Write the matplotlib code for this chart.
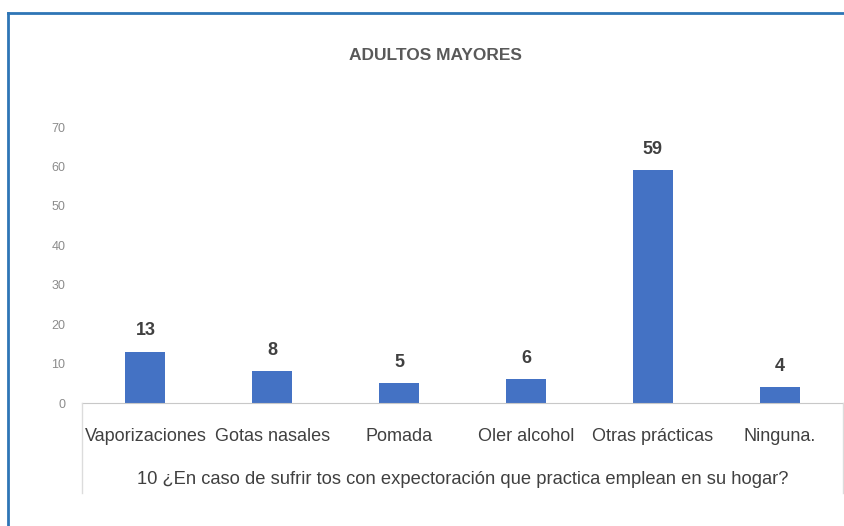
import matplotlib.pyplot as plt
from matplotlib.lines import Line2D

categorias = ['Vaporizaciones', 'Gotas nasales', 'Pomada', 'Oler alcohol', 'Otras prácticas', 'Ninguna.']
valores = [13, 8, 5, 6, 59, 4]
y_ticks = [0, 10, 20, 30, 40, 50, 60, 70]
titulo = 'ADULTOS MAYORES'
etiqueta_x = '10 ¿En caso de sufrir tos con expectoración que practica emplean en su hogar?'

plt.rcParams['font.family'] = ['Liberation Sans', 'DejaVu Sans']

fig = plt.figure(figsize=(8.45, 5.26), dpi=100)
ax = fig.add_axes([82 / 845, 1 - 403 / 526, (843 - 82) / 845, 276 / 526])

x = list(range(len(categorias)))
ax.bar(x, valores, width=0.315, color='#4472C4')

# etiquetas de datos
for xi, v in zip(x, valores):
    ax.text(xi, v + 3.2, str(v), ha='center', va='bottom', fontsize=13,
            fontweight='bold', color='#404040')

ax.set_xlim(-0.5, len(categorias) - 0.5)
ax.set_ylim(0, 70)
ax.set_yticks(y_ticks)
ax.set_yticklabels([str(t) for t in y_ticks], fontsize=9, color='#8c8c8c')
ax.set_xticks(x)
ax.set_xticklabels(categorias, fontsize=13, color='#404040')
ax.tick_params(axis='both', length=0)
ax.tick_params(axis='y', pad=12)
ax.tick_params(axis='x', pad=18)

for s in ['top', 'right', 'left']:
    ax.spines[s].set_visible(False)
ax.spines['bottom'].set_color('#c8c8c8')

# marco tipo tabla bajo el eje
for xp in [82, 843]:
    fig.add_artist(Line2D([xp / 845, xp / 845], [1 - 403 / 526, 1 - 493 / 526],
                          color='#dcdcdc', lw=1))

fig.text(463 / 845, 1 - 479 / 526, etiqueta_x, ha='center', va='center',
         fontsize=13.2, color='#404040')
fig.text(435 / 845, 1 - 55 / 526, titulo, ha='center', va='center',
         fontsize=12.5, fontweight='bold', color='#595959')

# borde azul (recortado: solo arriba e izquierda)
fig.add_artist(Line2D([8 / 845, 8 / 845], [0, 1 - 13 / 526], color='#2E75B6', lw=2))
fig.add_artist(Line2D([8 / 845, 1], [1 - 13 / 526, 1 - 13 / 526], color='#2E75B6', lw=2))

fig.savefig('out.png', dpi=100)
